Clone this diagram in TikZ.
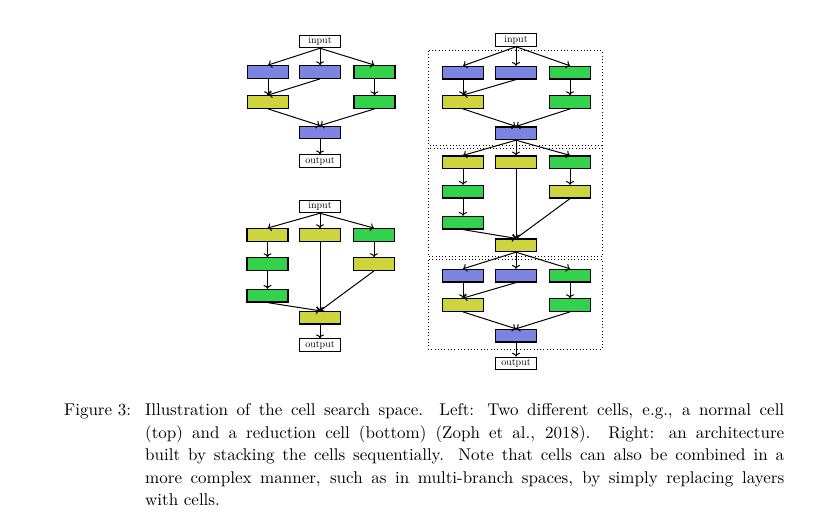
\documentclass[tikz,border=0pt]{standalone}
\usepackage{graphicx}
\usetikzlibrary{arrows.meta}
\definecolor{cblue}{RGB}{124,132,226}
\definecolor{cgreen}{RGB}{51,210,76}
\definecolor{cyellow}{RGB}{206,212,62}
\newlength{\capw}
\setlength{\capw}{375.9pt}
\newcommand{\capline}[1]{\hbox to \capw{#1}}
\begin{document}
\begin{tikzpicture}[x=1pt,y=-1pt,
  op/.style={draw=black, line width=1.3pt, minimum width=41pt, minimum height=12.5pt, inner sep=0pt},
  bl/.style={op, fill=cblue},
  gr/.style={op, fill=cgreen},
  ye/.style={op, fill=cyellow},
  io/.style={draw=black, line width=1pt, fill=white, minimum width=41pt, minimum height=12.5pt, inner sep=0pt, font=\fontsize{10}{12}\selectfont},
  ar/.style={->, line width=1pt},
  cellbox/.style={draw=black, line width=1pt, dash pattern=on 1pt off 2.3pt},
  capt/.style={inner sep=0pt, font=\fontsize{10}{13.24}\selectfont}]
\useasboundingbox (0,0) rectangle (836,522);
\fill[white] (0,0) rectangle (836,522);

% ---------- left top cell ----------
\node[io] (in1) at (320,41.5) {input};
\node[bl] (a1) at (268,72) {};
\node[bl] (a2) at (320,72) {};
\node[gr] (a3) at (374.5,72) {};
\node[ye] (b1) at (268,102) {};
\node[gr] (b3) at (374.5,102) {};
\node[bl] (c1) at (320,132.5) {};
\node[io] (out1) at (320,161) {output};
\draw[ar] (in1.south) -- (a1.north);
\draw[ar] (in1.south) -- (a2.north);
\draw[ar] (in1.south) -- (a3.north);
\draw[ar] (a1.south) -- (b1.north);
\draw[ar] (a2.south) -- (b1.north);
\draw[ar] (a3.south) -- (b3.north);
\draw[ar] (b1.south) -- (c1.north);
\draw[ar] (b3.south) -- (c1.north);
\draw[ar] (c1.south) -- (out1.north);

% ---------- left bottom cell ----------
\node[io] (in2) at (320,206.5) {input};
\node[ye] (d1) at (267.5,235) {};
\node[ye] (d2) at (320,235) {};
\node[gr] (d3) at (374,235) {};
\node[gr] (e1) at (267.5,264) {};
\node[ye] (e3) at (374,264) {};
\node[gr] (f1) at (267.5,295.7) {};
\node[ye] (g1) at (320,317.7) {};
\node[io] (out2) at (320,345) {output};
\draw[ar] (in2.south) -- (d1.north);
\draw[ar] (in2.south) -- (d2.north);
\draw[ar] (in2.south) -- (d3.north);
\draw[ar] (d1.south) -- (e1.north);
\draw[ar] (e1.south) -- (f1.north);
\draw[ar] (d3.south) -- (e3.north);
\draw[ar] (f1.south) -- (g1.north);
\draw[ar] (d2.south) -- (g1.north);
\draw[ar] (e3.south) -- (g1.north);
\draw[ar] (g1.south) -- (out2.north);

% ---------- right architecture ----------
\draw[cellbox] (428.3,50.7) rectangle (602,145);
\draw[cellbox] (428.3,148) rectangle (602,256.3);
\draw[cellbox] (428.3,259.5) rectangle (602,349);

\node[io] (in3) at (516,40) {input};
\node[bl] (r1a) at (463,72.7) {};
\node[bl] (r1b) at (516,72.7) {};
\node[gr] (r1c) at (570,72.7) {};
\node[ye] (r2a) at (463,102) {};
\node[gr] (r2c) at (570,102) {};
\node[bl] (r3) at (516,133.3) {};
\draw[ar] (in3.south) -- (r1a.north);
\draw[ar] (in3.south) -- (r1b.north);
\draw[ar] (in3.south) -- (r1c.north);
\draw[ar] (r1a.south) -- (r2a.north);
\draw[ar] (r1b.south) -- (r2a.north);
\draw[ar] (r1c.south) -- (r2c.north);
\draw[ar] (r2a.south) -- (r3.north);
\draw[ar] (r2c.south) -- (r3.north);

\node[ye] (s1a) at (463,162.3) {};
\node[ye] (s1b) at (516,162.3) {};
\node[gr] (s1c) at (570,162.3) {};
\node[gr] (s2a) at (463,191.7) {};
\node[ye] (s2c) at (570,191.7) {};
\node[gr] (s3a) at (463,222.7) {};
\node[ye] (s4) at (516,245.3) {};
\draw[ar] (r3.south) -- (s1a.north);
\draw[ar] (r3.south) -- (s1b.north);
\draw[ar] (r3.south) -- (s1c.north);
\draw[ar] (s1a.south) -- (s2a.north);
\draw[ar] (s2a.south) -- (s3a.north);
\draw[ar] (s1c.south) -- (s2c.north);
\draw[ar] (s3a.south) -- (s4.north);
\draw[ar] (s1b.south) -- (s4.north);
\draw[ar] (s2c.south) -- (s4.north);

\node[bl] (t1a) at (463,275.7) {};
\node[bl] (t1b) at (516,275.7) {};
\node[gr] (t1c) at (570,275.7) {};
\node[ye] (t2a) at (463,305) {};
\node[gr] (t2c) at (570,305) {};
\node[bl] (t3) at (516,335.7) {};
\node[io] (out3) at (516,363.3) {output};
\draw[ar] (s4.south) -- (t1a.north);
\draw[ar] (s4.south) -- (t1b.north);
\draw[ar] (s4.south) -- (t1c.north);
\draw[ar] (t1a.south) -- (t2a.north);
\draw[ar] (t1b.south) -- (t2a.north);
\draw[ar] (t1c.south) -- (t2c.north);
\draw[ar] (t2a.south) -- (t3.north);
\draw[ar] (t2c.south) -- (t3.north);
\draw[ar] (t3.south) -- (out3.north);

% ---------- caption ----------
\begin{scope}
\clip (0,0) rectangle (836,504.5);
\node[capt, anchor=base west] (flabel) at (64,415.5) {\scalebox{1.7}{Figure 3:}};
\node[capt, anchor=base west] (ctext) at (145,415.5)
 {\scalebox{1.7}{\parbox[t]{\capw}{\fontsize{10}{13.24}\selectfont
 \capline{Illustration of the cell search space. Left: Two different cells, e.g., a normal cell}
 \capline{(top) and a reduction cell (bottom) (Zoph et al., 2018). Right: an architecture}
 \capline{built by stacking the cells sequentially. Note that cells can also be combined in a}
 \capline{more complex manner, such as in multi-branch spaces, by simply replacing layers}
 \hbox{with cells.}}}};
\end{scope}
\end{tikzpicture}
\end{document}
